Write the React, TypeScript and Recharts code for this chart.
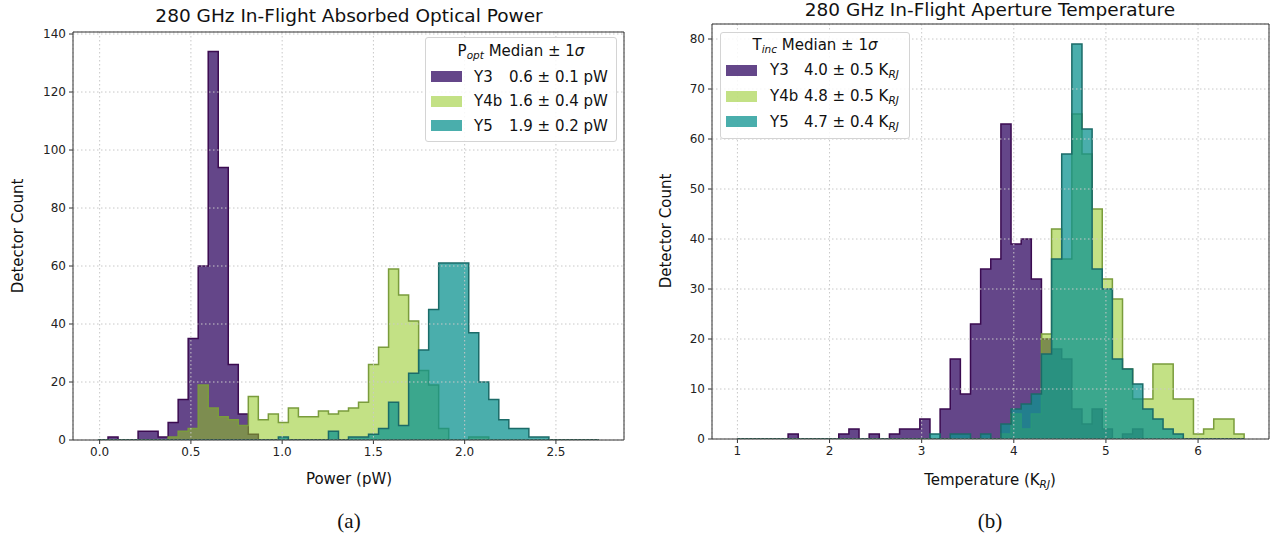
import { ComposedChart, Area, XAxis, YAxis, CartesianGrid, ReferenceArea } from "recharts";

// shared bins of each panel: first edge and width
const powerBinStart = -0.009;
const powerBinWidth = 0.0549;
const tempBinStart = 1.0;
const tempBinWidth = 0.11;

// panel (a): detector counts per power bin (50 bins)
const powerY3 = [
  0, 1, 0, 0, 3, 3, 1, 6, 14, 35,
  60, 134, 94, 26, 9, 2, 0, 0, 0, 0,
  0, 0, 0, 0, 0, 0, 0, 0, 0, 0,
  0, 0, 0, 0, 0, 0, 0, 0, 0, 0,
  0, 0, 0, 0, 0, 0, 0, 0, 0, 0,
];
const powerY4b = [
  0, 0, 0, 0, 0, 0, 0, 1, 3, 4,
  19, 11, 8, 7, 5, 15, 7, 9, 6, 11,
  8, 8, 10, 9, 10, 11, 13, 26, 32, 59,
  50, 41, 24, 19, 4, 0, 0, 1, 1, 0,
  0, 0, 0, 0, 0, 0, 0, 0, 0, 0,
];
const powerY5 = [
  0, 0, 0, 0, 0, 0, 0, 0, 0, 0,
  0, 0, 0, 0, 0, 0, 0, 0, 1, 0,
  0, 0, 0, 3, 0, 1, 1, 2, 4, 13,
  5, 23, 31, 45, 61, 61, 61, 37, 20, 14,
  7, 4, 4, 1, 1, 0, 0, 0, 0, 0,
];

// panel (b): detector counts per temperature bin (50 bins)
const tempY3 = [
  0, 0, 0, 0, 0, 1, 0, 0, 0, 0,
  1, 2, 0, 1, 0, 1, 2, 2, 4, 0,
  6, 16, 9, 23, 34, 36, 63, 39, 40, 32,
  20, 18, 16, 6, 3, 6, 2, 0, 1, 2,
  0, 0, 0, 0, 0, 0, 0, 0, 0, 0,
];
const tempY4b = [
  0, 0, 0, 0, 0, 0, 0, 0, 0, 0,
  0, 0, 0, 0, 0, 0, 0, 0, 0, 0,
  0, 0, 0, 0, 0, 0, 1, 5, 2, 5,
  21, 42, 36, 65, 57, 46, 32, 28, 14, 8,
  8, 15, 15, 8, 8, 1, 2, 4, 4, 1,
];
const tempY5 = [
  0, 0, 0, 0, 0, 0, 0, 0, 0, 0,
  0, 0, 0, 0, 0, 0, 0, 0, 0, 1,
  0, 1, 1, 0, 1, 0, 3, 6, 7, 9,
  17, 36, 57, 79, 62, 34, 30, 16, 14, 11,
  6, 4, 2, 1, 0, 0, 0, 0, 0, 0,
];

const powerTicks = [0, 0.5, 1, 1.5, 2, 2.5];
const powerCountTicks = [0, 20, 40, 60, 80, 100, 120, 140];
const tempTicks = [1, 2, 3, 4, 5, 6];
const tempCountTicks = [0, 10, 20, 30, 40, 50, 60, 70, 80];

const seriesNames = ["Y3", "Y4b", "Y5"];
const powerLegend = ["0.6 ± 0.1 pW", "1.6 ± 0.4 pW", "1.9 ± 0.2 pW"];
const tempLegend = ["4.0 ± 0.5", "4.8 ± 0.5", "4.7 ± 0.4"];

const styles = [
  { fill: "#3d186b", opacity: 0.8, stroke: "#3b0b50" },
  { fill: "#92c820", opacity: 0.55, stroke: "#7a9c3c" },
  { fill: "#0e9390", opacity: 0.75, stroke: "#1b6b68" },
];

const FONT = "'DejaVu Sans', sans-serif";

function toSteps(start: number, width: number, counts: number[]) {
  const pts = [{ x: start, y: 0 }];
  counts.forEach((c, i) => pts.push({ x: start + i * width, y: c }));
  pts.push({ x: start + counts.length * width, y: 0 });
  return pts;
}

interface HistProps {
  left: number;
  width: number;
  top: number;
  right: number;
  yWidth: number;
  xDomain: [number, number];
  yDomain: [number, number];
  xTicks: number[];
  yTicks: number[];
  xFmt: (v: number) => string;
  binStart: number;
  binWidth: number;
  counts: number[][];
}

function Histogram(p: HistProps) {
  const height = 490;
  return (
    <div style={{ position: "absolute", left: p.left, top: 0 }}>
      <ComposedChart
        width={p.width}
        height={height}
        margin={{ top: p.top, right: p.right, bottom: 0, left: 0 }}
        style={{ fontFamily: FONT }}
      >
        <XAxis
          type="number"
          dataKey="x"
          domain={p.xDomain}
          allowDataOverflow
          ticks={p.xTicks}
          interval={0}
          tickFormatter={p.xFmt}
          height={height - 440 + (p.top < 30 ? 1 : 0)}
          axisLine={false}
          tickSize={4}
          tickMargin={3}
          tickLine={{ stroke: "#333" }}
          tick={{ fontSize: 12, fill: "#222" }}
        />
        <YAxis
          type="number"
          domain={p.yDomain}
          allowDataOverflow
          ticks={p.yTicks}
          interval={0}
          width={p.yWidth}
          axisLine={false}
          tickSize={4}
          tickMargin={3}
          tickLine={{ stroke: "#333" }}
          tick={{ fontSize: 12, fill: "#222" }}
        />
        {p.counts.map((c, i) => (
          <Area
            key={seriesNames[i]}
            data={toSteps(p.binStart, p.binWidth, c)}
            dataKey="y"
            type="stepAfter"
            fill={styles[i].fill}
            fillOpacity={styles[i].opacity}
            stroke={styles[i].stroke}
            strokeWidth={1.5}
            isAnimationActive={false}
            dot={false}
            activeDot={false}
          />
        ))}
        <CartesianGrid stroke="#c8c8c8" strokeDasharray="1.5 2.5" zIndex={600} />
        <ReferenceArea
          x1={p.xDomain[0]}
          x2={p.xDomain[1]}
          y1={p.yDomain[0]}
          y2={p.yDomain[1]}
          fill="none"
          stroke="#333"
          strokeWidth={1}
          fillOpacity={0}
          ifOverflow="visible"
          zIndex={700}
        />
      </ComposedChart>
    </div>
  );
}

function Legend(props: {
  left: number;
  top: number;
  width: number;
  titleH: number;
  rowH: number;
  nameW: number;
  gap: number;
  title: React.ReactNode;
  values: React.ReactNode[];
}) {
  return (
    <div
      style={{
        position: "absolute",
        left: props.left,
        top: props.top,
        width: props.width,
        border: "1px solid #d4d4d4",
        borderRadius: 3,
        background: "rgba(255,255,255,0.85)",
        fontFamily: FONT,
        fontSize: 15,
        color: "#111",
        paddingBottom: 3,
        boxSizing: "border-box",
      }}
    >
      <div style={{ height: props.titleH, lineHeight: `${props.titleH}px`, textAlign: "center", whiteSpace: "nowrap" }}>
        {props.title}
      </div>
      {seriesNames.map((n, i) => (
        <div
          key={n}
          style={{ height: props.rowH, display: "flex", alignItems: "center", paddingLeft: 5, whiteSpace: "nowrap" }}
        >
          <div
            style={{
              width: 31,
              height: 11,
              background: styles[i].fill,
              opacity: styles[i].opacity,
              marginRight: props.gap,
              flexShrink: 0,
            }}
          />
          <span style={{ display: "inline-block", width: props.nameW }}>{n}</span>
          <span>{props.values[i]}</span>
        </div>
      ))}
    </div>
  );
}

function Txt(props: { cx: number; cy: number; size: number; rotate?: boolean; serif?: boolean; children: React.ReactNode }) {
  return (
    <div
      style={{
        position: "absolute",
        left: props.cx - 250,
        top: props.cy - 15,
        width: 500,
        height: 30,
        lineHeight: "30px",
        textAlign: "center",
        fontFamily: props.serif ? "'Liberation Serif', serif" : FONT,
        fontSize: props.size,
        color: "#111",
        whiteSpace: "nowrap",
        transform: props.rotate ? "rotate(-90deg)" : undefined,
      }}
    >
      {props.children}
    </div>
  );
}

const sub = (t: string) => (
  <sub style={{ fontSize: "0.7em", fontStyle: "italic", verticalAlign: "-0.25em", lineHeight: 0 }}>{t}</sub>
);

export default function App() {
  return (
    <div style={{ position: "absolute", left: 0, top: 0, width: 1273, height: 542, background: "#fff", overflow: "hidden" }}>
      <Histogram
        left={0}
        width={640}
        top={32}
        right={16}
        yWidth={73}
        xDomain={[-0.146, 2.873]}
        yDomain={[0, 140.7]}
        xTicks={powerTicks}
        yTicks={powerCountTicks}
        xFmt={(v) => v.toFixed(1)}
        binStart={powerBinStart}
        binWidth={powerBinWidth}
        counts={[powerY3, powerY4b, powerY5]}
      />
      <Histogram
        left={640}
        width={633}
        top={24}
        right={4}
        yWidth={72}
        xDomain={[0.724, 6.77]}
        yDomain={[0, 83]}
        xTicks={tempTicks}
        yTicks={tempCountTicks}
        xFmt={(v) => String(v)}
        binStart={tempBinStart}
        binWidth={tempBinWidth}
        counts={[tempY3, tempY4b, tempY5]}
      />
      <Legend
        left={425}
        top={37}
        width={192}
        titleH={26.5}
        rowH={24.5}
        nameW={35}
        gap={12}
        title={<>P{sub("opt")} Median ± 1<i>σ</i></>}
        values={powerLegend}
      />
      <Legend
        left={720}
        top={32}
        width={190}
        titleH={24.6}
        rowH={25.7}
        nameW={34}
        gap={13}
        title={<>T{sub("inc")} Median ± 1<i>σ</i></>}
        values={tempLegend.map((v) => (
          <>
            {v} K{sub("RJ")}
          </>
        ))}
      />
      <Txt cx={349} cy={16} size={18.5}>280 GHz In-Flight Absorbed Optical Power</Txt>
      <Txt cx={990} cy={10} size={18.5}>280 GHz In-Flight Aperture Temperature</Txt>
      <Txt cx={18} cy={236} size={15} rotate>Detector Count</Txt>
      <Txt cx={666} cy={231} size={15} rotate>Detector Count</Txt>
      <Txt cx={349} cy={479} size={15}>Power (pW)</Txt>
      <Txt cx={990} cy={480} size={15}>Temperature (K{sub("RJ")})</Txt>
      <Txt cx={349} cy={521} size={21} serif>(a)</Txt>
      <Txt cx={990} cy={521} size={21} serif>(b)</Txt>
    </div>
  );
}
